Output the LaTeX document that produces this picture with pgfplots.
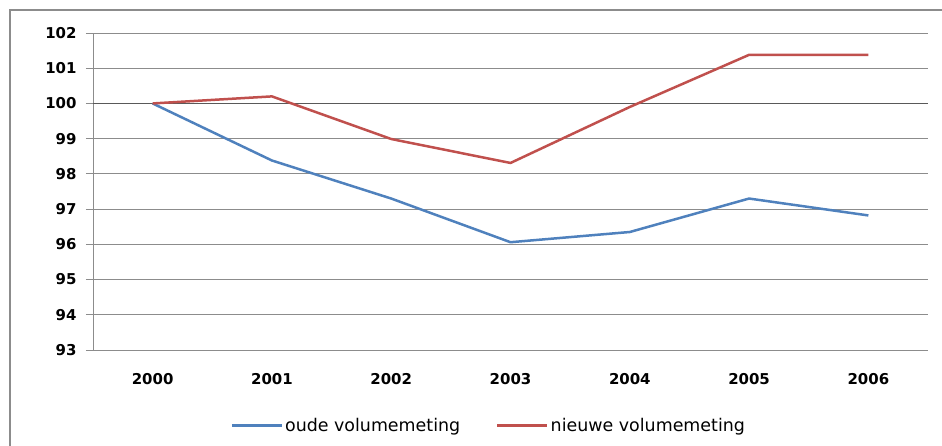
\documentclass[border=0pt]{standalone}
\usepackage{pgfplots}
\pgfplotsset{compat=1.18}
\usepackage{fontspec}
\setmainfont{DejaVu Sans}
\definecolor{xlblue}{HTML}{4F81BD}
\definecolor{xlred}{HTML}{C0504D}
\definecolor{gridg}{HTML}{8C8C8C}
\begin{document}
\begin{tikzpicture}[x=1bp,y=1bp]
\useasboundingbox (0,0) rectangle (942,446);
\draw[gridg, line width=2bp] (10,0) -- (10,436) -- (942,436);
\begin{axis}[
  at={(93bp,96bp)}, anchor=south west,
  width=835bp, height=317bp, scale only axis,
  xmin=-0.5, xmax=6.5, ymin=93, ymax=102,
  xtick={0,...,6},
  xticklabels={2000,2001,2002,2003,2004,2005,2006},
  minor xtick={-0.5,0.5,...,6.5},
  ytick={93,...,102},
  /pgf/number format/assume math mode=true,
  ymajorgrids,
  grid style={gridg, line width=0.9bp},
  axis x line*=bottom, axis y line*=left,
  axis line style={gridg, line width=0.9bp, -},
  tick align=outside,
  major tick length=7bp, minor tick length=6bp,
  xtick style={draw=none},
  minor tick style={gridg, line width=0.9bp, draw=gridg},
  ytick style={gridg, line width=0.9bp, draw=gridg},
  tick label style={font=\bfseries\fontsize{15}{18}\selectfont, text=black},
  yticklabel style={xshift=-6bp},
  xticklabel style={yshift=-13bp},
  legend style={at={(0.474,-0.238)}, anchor=center, draw=none, legend columns=2,
    font=\fontsize{17.5}{19}\selectfont, /tikz/every even column/.append style={column sep=34bp}},
  legend cell align=left,
  legend image code/.code={\draw[#1, line width=2.5bp] (0bp,0bp) -- (50bp,0bp);},
  clip=false,
]
\draw[gray!70!black, line width=1.2bp] (axis cs:-0.5,100) -- (axis cs:6.5,100);
\addplot[xlblue, line width=2.5bp] coordinates {(0,100) (1,98.38) (2,97.3) (3,96.06) (4,96.35) (5,97.3) (6,96.82)};
\addlegendentry{oude volumemeting}
\addplot[xlred, line width=2.5bp] coordinates {(0,100) (1,100.2) (2,98.99) (3,98.31) (4,99.9) (5,101.38) (6,101.38)};
\addlegendentry{nieuwe volumemeting}
\end{axis}
\end{tikzpicture}
\end{document}
